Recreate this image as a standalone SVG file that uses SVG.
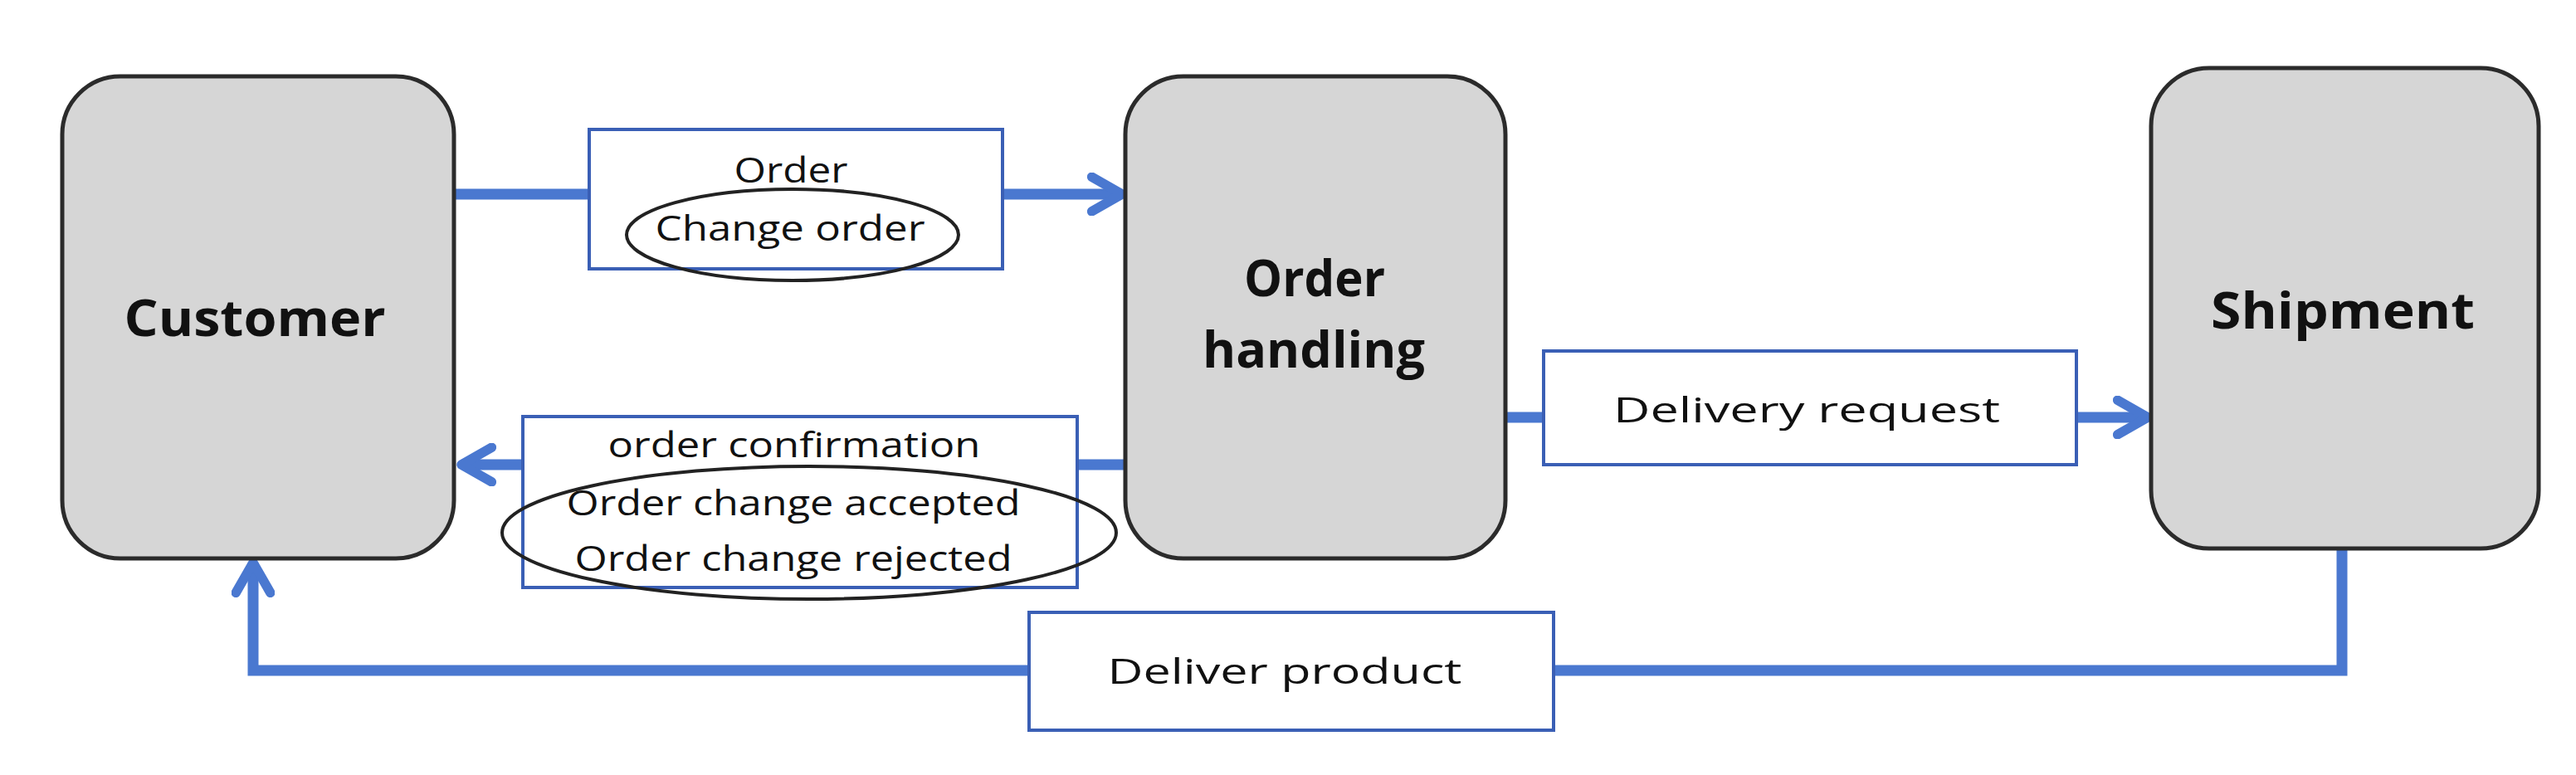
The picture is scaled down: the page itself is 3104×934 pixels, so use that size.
<svg xmlns="http://www.w3.org/2000/svg" width="3104" height="934" viewBox="0 0 3104 934">
<style>
.node{fill:#d6d6d6;stroke:#2b2b2b;stroke-width:5}
.lbl{fill:#fff;stroke:#3a5fb5;stroke-width:4}
.ell{fill:none;stroke:#222;stroke-width:4}
.con{fill:none;stroke:#4a78d0;stroke-width:13}
.big{font-family:"Open Sans","Liberation Sans",sans-serif;font-weight:bold;font-size:60px;fill:#111;text-anchor:middle}
.sm{font-family:"Open Sans","Liberation Sans",sans-serif;font-size:42px;fill:#111;text-anchor:middle}
</style>
<defs>
<marker id="ah" viewBox="0 0 10 10" refX="8" refY="5" markerWidth="4" markerHeight="4" orient="auto" markerUnits="strokeWidth">
<path d="M1,1 L8,5 L1,9" fill="none" stroke="#4a78d0" stroke-width="2.2" stroke-linecap="round" stroke-linejoin="round"/>
</marker>
</defs>
<rect width="3104" height="934" fill="#fff"/>
<g id="connectors">
<line class="con" x1="548" y1="234" x2="712" y2="234"/>
<line class="con" x1="1208" y1="234" x2="1352" y2="234" marker-end="url(#ah)"/>
<line class="con" x1="1356" y1="560" x2="1298" y2="560"/>
<line class="con" x1="630" y1="560" x2="556" y2="560" marker-end="url(#ah)"/>
<line class="con" x1="1814" y1="503" x2="1860" y2="503"/>
<line class="con" x1="2502" y1="503" x2="2588" y2="503" marker-end="url(#ah)"/>
<polyline class="con" points="2822,661 2822,808 1872,808"/>
<polyline class="con" points="1240,808 305,808 305,678" marker-end="url(#ah)"/>
</g>
<g id="customer"><rect class="node" x="75" y="92" width="472" height="581" rx="70"/><text class="big" x="307" y="405" textLength="315" lengthAdjust="spacingAndGlyphs">Customer</text></g>
<g id="order-handling"><rect class="node" x="1356" y="92" width="458" height="581" rx="70"/><text class="big" x="1584" y="357" textLength="170" lengthAdjust="spacingAndGlyphs">Order</text><text class="big" x="1583" y="443" textLength="268" lengthAdjust="spacingAndGlyphs">handling</text></g>
<g id="shipment"><rect class="node" x="2592" y="82" width="467" height="579" rx="70"/><text class="big" x="2823" y="396" textLength="318" lengthAdjust="spacingAndGlyphs">Shipment</text></g>
<g id="label-order"><rect class="lbl" x="710" y="156" width="498" height="168"/><ellipse class="ell" cx="955" cy="283" rx="200" ry="55"/><text class="sm" x="953" y="220" textLength="137" lengthAdjust="spacingAndGlyphs">Order</text><text class="sm" x="952" y="290" textLength="325" lengthAdjust="spacingAndGlyphs">Change order</text></g>
<g id="label-confirm"><rect class="lbl" x="630" y="502" width="668" height="206"/><ellipse class="ell" cx="975" cy="642" rx="370" ry="80"/><text class="sm" x="957" y="551" textLength="449" lengthAdjust="spacingAndGlyphs">order confirmation</text><text class="sm" x="956" y="621" textLength="547" lengthAdjust="spacingAndGlyphs">Order change accepted</text><text class="sm" x="956" y="688" textLength="527" lengthAdjust="spacingAndGlyphs">Order change rejected</text></g>
<g id="label-delivery-request"><rect class="lbl" x="1860" y="423" width="642" height="137"/><text class="sm" x="2177" y="509" textLength="466" lengthAdjust="spacingAndGlyphs">Delivery request</text></g>
<g id="label-deliver-product"><rect class="lbl" x="1240" y="738" width="632" height="142"/><text class="sm" x="1548" y="824" textLength="427" lengthAdjust="spacingAndGlyphs">Deliver product</text></g>
</svg>
